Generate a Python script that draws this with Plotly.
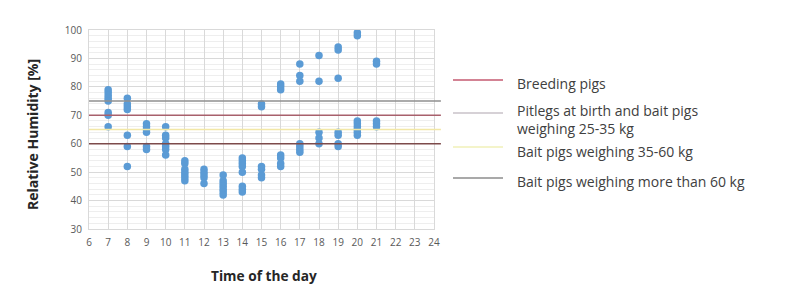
import plotly.graph_objects as go

# ---- data ----
hours = [7, 8, 9, 10, 11, 12, 13, 14, 15, 16, 17, 18, 19, 20, 21]
rh_07 = [79, 78, 77, 76, 75, 71, 70, 66]
rh_08 = [76, 74, 73, 72, 63, 59, 52]
rh_09 = [67, 66, 65, 64, 59, 58]
rh_10 = [66, 63, 62, 60, 59, 58, 56]
rh_11 = [54, 53, 51, 50, 49, 48, 47]
rh_12 = [51, 50, 49, 48, 46]
rh_13 = [49, 47, 46, 45, 44, 43, 42]
rh_14 = [55, 54, 53, 52, 50, 45, 44, 43]
rh_15 = [74, 73, 52, 51, 49, 48]
rh_16 = [81, 80, 79, 56, 55, 53, 52]
rh_17 = [88, 84, 82, 60, 59, 58, 57]
rh_18 = [91, 82, 64, 62, 60]
rh_19 = [94, 93, 83, 64, 63, 60, 59]
rh_20 = [99, 98, 68, 67, 66, 65, 64, 63]
rh_21 = [89, 88, 68, 67, 66]
rh_by_hour = [rh_07, rh_08, rh_09, rh_10, rh_11, rh_12, rh_13, rh_14,
              rh_15, rh_16, rh_17, rh_18, rh_19, rh_20, rh_21]

limit_values = [75, 70, 65, 60]
limit_colors = ["#8f8f8f", "#a8606c", "#f2e7a6", "#7d4b4b"]

legend_labels = ["Breeding pigs",
                 "Pitlegs at birth and bait pigs<br>weighing 25-35 kg",
                 "Bait pigs weighing 35-60 kg",
                 "Bait pigs weighing more than 60 kg"]
legend_colors = ["#c45a70", "#c9c2c9", "#f0f0b8", "#8c8c8c"]

x_title = "Time of the day"
y_title = "Relative Humidity [%]"

x_pts, y_pts = [], []
for h, vals in zip(hours, rh_by_hour):
    for v in vals:
        x_pts.append(h)
        y_pts.append(v)

fig = go.Figure()
fig.add_trace(go.Scatter(x=x_pts, y=y_pts, mode="markers",
                         marker=dict(size=7.5, color="#5b9bd5"),
                         showlegend=False, cliponaxis=False))

shapes = []
for v, c in zip(limit_values, limit_colors):
    shapes.append(dict(type="line", xref="paper", yref="y", x0=0, x1=1.02,
                       y0=v, y1=v, line=dict(color=c, width=1.6), layer="above"))

# manual legend
L, R, T, B = 89, 434, 30, 229
def px(x):
    return (x - L) / (R - L)
def py(y):
    return (B - y) / (B - T)

leg_line_y = [80, 113, 147, 178]
leg_text_y = [83, 119, 151, 181]
annotations = []
for ly, ty, lab, c in zip(leg_line_y, leg_text_y, legend_labels, legend_colors):
    shapes.append(dict(type="line", xref="paper", yref="paper",
                       x0=px(453), x1=px(503), y0=py(ly), y1=py(ly),
                       line=dict(color=c, width=1.6)))
    annotations.append(dict(xref="paper", yref="paper", x=px(515), y=py(ty),
                            text=lab, showarrow=False, xanchor="left", yanchor="middle",
                            align="left",
                            font=dict(family="Open Sans", size=14, color="#404040")))

# axis titles
annotations.append(dict(xref="paper", yref="paper", x=px(264), y=py(275),
                        text="<b>" + x_title + "</b>", showarrow=False,
                        xanchor="center", yanchor="middle",
                        font=dict(family="Open Sans", size=13.7, color="#262626")))
annotations.append(dict(xref="paper", yref="paper", x=px(32), y=py(135),
                        text="<b>" + y_title + "</b>", showarrow=False, textangle=-90,
                        xanchor="center", yanchor="middle",
                        font=dict(family="Open Sans", size=14, color="#262626")))

fig.update_layout(
    width=786, height=291,
    margin=dict(l=L, r=786 - R, t=T, b=291 - B),
    paper_bgcolor="white", plot_bgcolor="white",
    shapes=shapes, annotations=annotations,
    font=dict(family="Open Sans", color="#595959"),
    xaxis=dict(range=[6, 24], dtick=1, tick0=6, showgrid=True, gridcolor="#d9d9d9",
               zeroline=False, showline=True, linecolor="#d9d9d9", mirror=True,
               ticks="", tickfont=dict(size=10, color="#595959"), automargin=False,
               ticklabelstandoff=4),
    yaxis=dict(range=[30, 100], dtick=10, showgrid=True, gridcolor="#d9d9d9",
               minor=dict(dtick=2, showgrid=True, gridcolor="#eeeeee"),
               zeroline=False, showline=True, linecolor="#d9d9d9", mirror=True,
               ticks="", tickfont=dict(size=10, color="#595959"), ticklabelstandoff=4,
               automargin=False),
)

fig.write_html("out.html", config={"displayModeBar": False},
               post_script="document.body.style.margin='0';document.body.style.padding='0';")
